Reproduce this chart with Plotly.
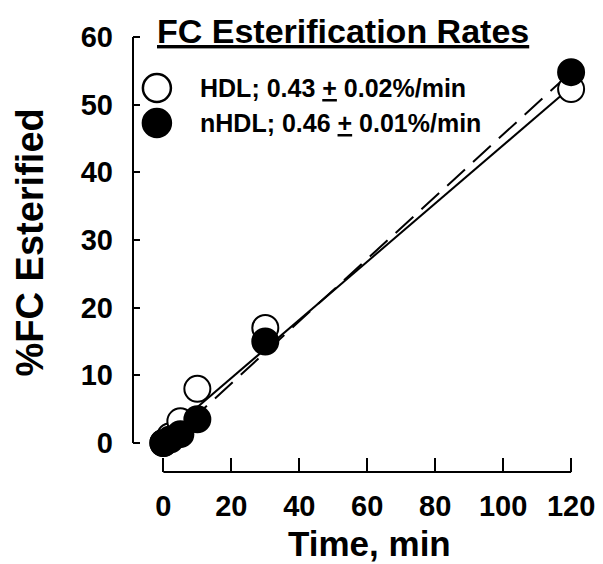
import plotly.graph_objects as go

# ---- data ----
time_min = [0, 2, 5, 10, 30, 120]
hdl_pct = [0.0, 1.0, 3.2, 8.0, 17.0, 52.3]
nhdl_pct = [0.0, 0.5, 1.3, 3.5, 15.0, 54.8]

series_names = ["HDL", "nHDL"]
series_labels = ["HDL; 0.43 <u>+</u> 0.02%/min", "nHDL; 0.46 <u>+</u> 0.01%/min"]
fit_slope = [0.43, 0.46]
fit_intercept = [1.0, -0.4]
fit_x = [0, 120]

x_ticks = [0, 20, 40, 60, 80, 100, 120]
y_ticks = [0, 10, 20, 30, 40, 50, 60]

FONT = "Liberation Sans, Arial, sans-serif"

fig = go.Figure()

# regression lines (drawn first so markers sit on top)
dashes = ["solid", "24px,11px"]
for name, m, b, d in zip(series_names, fit_slope, fit_intercept, dashes):
    fig.add_trace(go.Scatter(
        x=fit_x, y=[m * xv + b for xv in fit_x], mode="lines",
        line=dict(color="black", width=2, dash=d),
        name=name + " fit", showlegend=False, hoverinfo="skip", cliponaxis=False))

fig.add_trace(go.Scatter(
    x=time_min, y=hdl_pct, mode="markers", name=series_names[0],
    marker=dict(size=26, color="white", line=dict(color="black", width=2)),
    showlegend=False, cliponaxis=False))
fig.add_trace(go.Scatter(
    x=time_min, y=nhdl_pct, mode="markers", name=series_names[1],
    marker=dict(size=26, color="black", line=dict(color="black", width=2)),
    showlegend=False, cliponaxis=False))

# plot-area geometry (pixels in a 603x564 page)
L, R, T, B = 133, 595, 20, 472
W, H = 603, 564
x0px, x120px = 163.5, 573.0
y0px, y60px = 443.0, 37.0
xs = (x120px - x0px) / 120.0
ys = (y0px - y60px) / 60.0
xmin = -(x0px - L) / xs
xmax = xmin + (R - L) / xs
ymin = -(B - y0px) / ys
ymax = ymin + (B - T) / ys

axis_font = dict(family=FONT, size=29, color="black")

fig.update_layout(
    width=W, height=H,
    margin=dict(l=L, r=W - R, t=T, b=H - B),
    paper_bgcolor="white", plot_bgcolor="white",
    showlegend=False,
    xaxis=dict(range=[xmin, xmax], tickvals=x_ticks, ticks="inside", ticklen=14,
               tickwidth=2, tickcolor="black", showgrid=False, zeroline=False,
               showline=False, tickfont=dict(axis_font, weight="bold"),
               ticklabelstandoff=14),
    yaxis=dict(range=[ymin, ymax], tickvals=y_ticks, ticks="inside", ticklen=7,
               tickwidth=2, tickcolor="black", showgrid=False, zeroline=False,
               showline=False, tickfont=dict(axis_font, weight="bold"),
               ticklabelstandoff=19),
    shapes=[
        dict(type="line", xref="paper", x0=0, x1=0, yref="y", y0=y_ticks[0], y1=y_ticks[-1],
             line=dict(color="black", width=2)),
        dict(type="line", xref="x", x0=x_ticks[0], x1=x_ticks[-1], yref="paper", y0=0, y1=0,
             line=dict(color="black", width=2)),
    ],
)

def px_to_paper_x(px):
    return (px - L) / (R - L)

def px_to_paper_y(py):
    return (B - py) / (B - T)

annotations = [
    dict(text="<b>Time, min</b>", x=px_to_paper_x(371), y=px_to_paper_y(543),
         xref="paper", yref="paper", showarrow=False, xanchor="center", yanchor="middle",
         font=dict(family=FONT, size=35, color="black")),
    dict(text="<b>%FC Esterified</b>", x=px_to_paper_x(30), y=px_to_paper_y(242),
         xref="paper", yref="paper", showarrow=False, xanchor="center", yanchor="middle",
         textangle=-90, font=dict(family=FONT, size=38, color="black")),
    dict(text="<b><u>FC Esterification Rates</u></b>", x=px_to_paper_x(344), y=px_to_paper_y(31),
         xref="paper", yref="paper", showarrow=False, xanchor="center", yanchor="middle",
         font=dict(family=FONT, size=34, color="black")),
]

# hand-made legend (large symbols like the original)
legend_rows_y = [88, 123]
legend_fill = ["white", "black"]
shapes = list(fig.layout.shapes)
for lab, ry, fill in zip(series_labels, legend_rows_y, legend_fill):
    annotations.append(dict(text="<b>" + lab + "</b>", x=px_to_paper_x(198), y=px_to_paper_y(ry),
                            xref="paper", yref="paper", showarrow=False, xanchor="left",
                            yanchor="middle", font=dict(family=FONT, size=25, color="black")))
    shapes.append(dict(type="circle", xref="paper", yref="paper",
                       xsizemode="pixel", ysizemode="pixel",
                       xanchor=px_to_paper_x(157), yanchor=px_to_paper_y(ry),
                       x0=-14, x1=14, y0=-14, y1=14,
                       fillcolor=fill, line=dict(color="black", width=2.5)))

fig.update_layout(annotations=annotations, shapes=shapes)

fig.write_html("out.html")
